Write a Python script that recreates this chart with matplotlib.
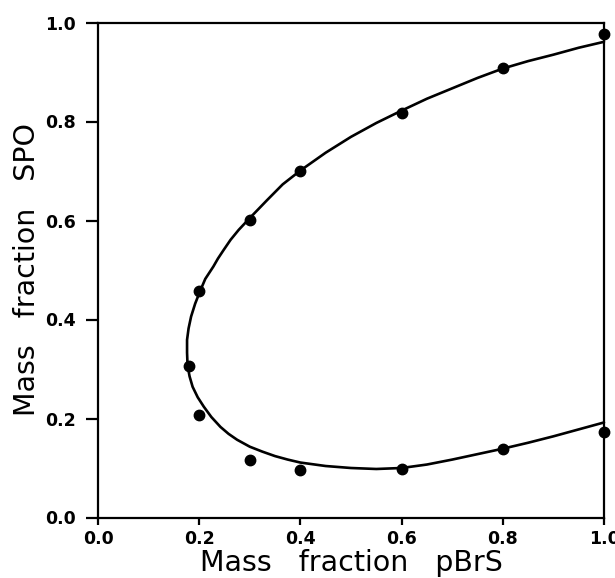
import matplotlib
matplotlib.use("Agg")
import matplotlib.pyplot as plt

# Measured data points
pts_x = [0.18, 0.2, 0.2, 0.3, 0.4, 0.6, 0.8, 1.0, 0.3, 0.4, 0.6, 0.8, 1.0]
pts_y = [0.307, 0.208, 0.458, 0.601, 0.701, 0.818, 0.909, 0.977, 0.117, 0.096, 0.097, 0.138, 0.173]

# Fitted binodal curve (upper right -> around -> lower right)
curve_x = [1.0, 0.95, 0.9, 0.85, 0.8, 0.75, 0.7, 0.65, 0.6, 0.55, 0.5, 0.45, 0.4,
           0.365, 0.334, 0.3, 0.278, 0.262, 0.248, 0.237, 0.228,
           0.212, 0.202, 0.192, 0.184, 0.179, 0.176, 0.176, 0.177, 0.181, 0.187,
           0.197, 0.209, 0.224, 0.242, 0.258, 0.275, 0.3, 0.325, 0.35, 0.375,
           0.4, 0.45, 0.5, 0.55, 0.6, 0.65, 0.7, 0.75, 0.8, 0.85, 0.9, 0.95, 1.0]
curve_y = [0.961, 0.949, 0.935, 0.922, 0.907, 0.888, 0.867, 0.846, 0.822, 0.797,
           0.769, 0.737, 0.701, 0.673, 0.641, 0.605, 0.581, 0.561, 0.540, 0.523,
           0.507, 0.482, 0.458, 0.432, 0.406, 0.382, 0.359, 0.333, 0.307,
           0.285, 0.264, 0.243, 0.224, 0.203, 0.183, 0.169, 0.157, 0.143, 0.133,
           0.124, 0.117, 0.111, 0.104, 0.100, 0.098, 0.100, 0.107, 0.117, 0.128,
           0.139, 0.151, 0.164, 0.178, 0.192]

xticks = [0.0, 0.2, 0.4, 0.6, 0.8, 1.0]
yticks = [0.0, 0.2, 0.4, 0.6, 0.8, 1.0]
xlabel = "Mass   fraction   pBrS"
ylabel = "Mass   fraction   SPO"

fig = plt.figure(figsize=(6.15, 5.78), dpi=100)
ax = fig.add_axes([98/615, 1 - 517.5/578, (604-98)/615, (517.5-22.5)/578])

ax.plot(curve_x, curve_y, color="black", lw=1.9, solid_capstyle="round",
        solid_joinstyle="round", clip_on=False, zorder=2)
ax.plot(pts_x, pts_y, "o", color="black", ms=7.5, clip_on=False, zorder=3)

ax.set_xlim(0, 1)
ax.set_ylim(0, 1)
ax.set_xticks(xticks)
ax.set_yticks(yticks)
ax.set_xticklabels([f"{v:.1f}" for v in xticks])
ax.set_yticklabels([f"{v:.1f}" for v in yticks])

for s in ax.spines.values():
    s.set_linewidth(1.6)

for lab in ax.get_xticklabels() + ax.get_yticklabels():
    lab.set_fontfamily("DejaVu Sans")
    lab.set_fontweight("bold")
    lab.set_fontsize(12.5)

ax.tick_params(axis="y", direction="out", length=9, width=1.6, pad=7)
ax.tick_params(axis="x", direction="out", length=5, width=1.6, pad=4)

ax.set_xlabel(xlabel, fontfamily="DejaVu Sans", fontsize=20.5, labelpad=1)
ax.set_ylabel(ylabel, fontfamily="DejaVu Sans", fontsize=20.5, labelpad=3)

fig.savefig("out.png", dpi=100, facecolor="white")
